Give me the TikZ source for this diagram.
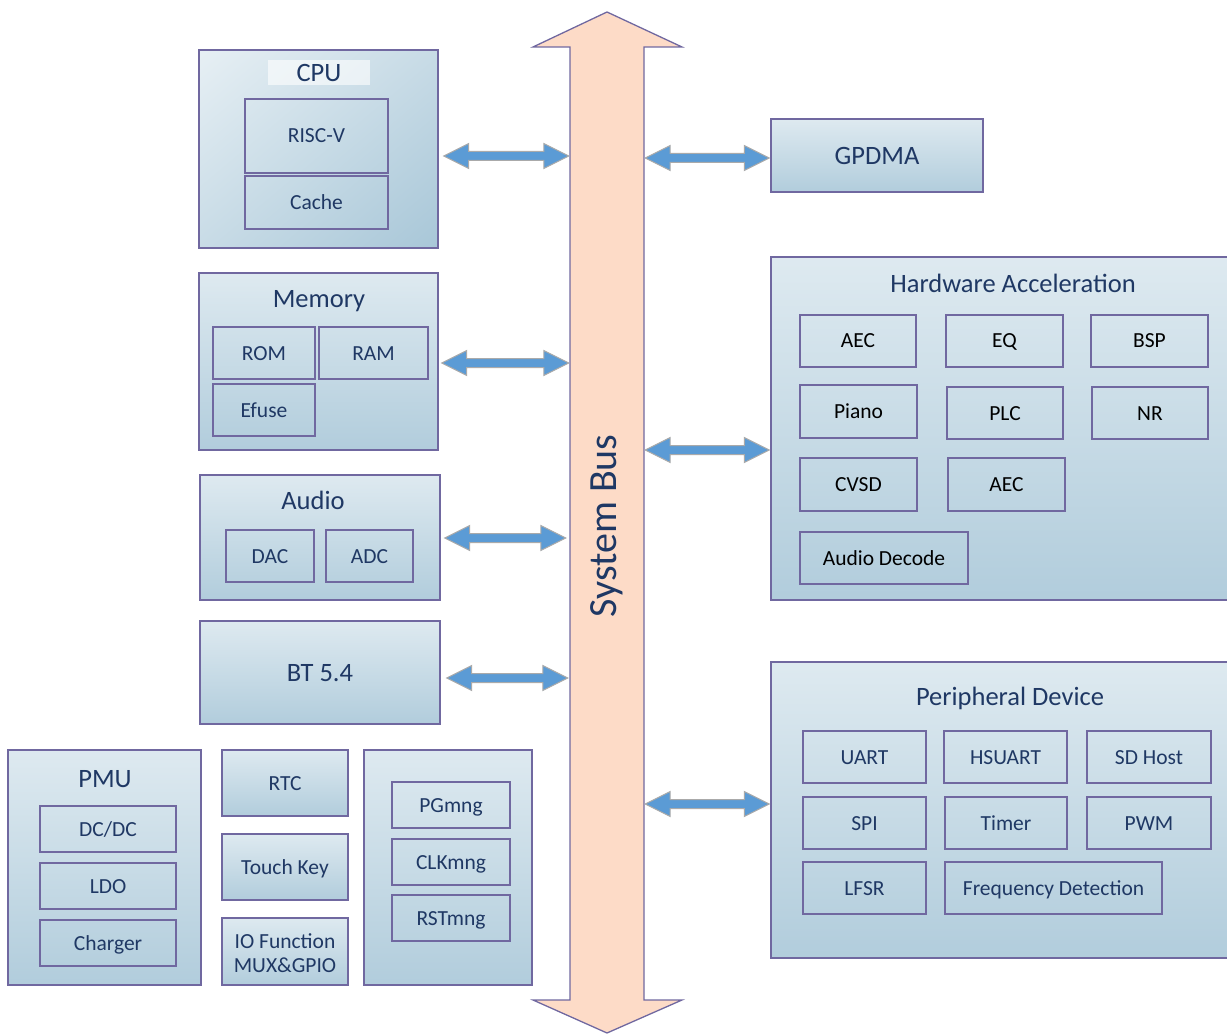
\documentclass[tikz,border=0pt]{standalone}
\usepackage{fontspec}
\setmainfont{Carlito}
\usetikzlibrary{calc,fit}
\definecolor{bord}{RGB}{112,104,160}
\definecolor{navy}{RGB}{31,56,100}
\definecolor{shA}{RGB}{244,248,250}
\definecolor{shB}{RGB}{164,196,214}
\definecolor{shC}{RGB}{192,214,226}
\definecolor{ablue}{RGB}{91,155,213}
\definecolor{agray}{RGB}{170,170,170}
\definecolor{peach}{RGB}{253,219,199}
\pgfdeclareverticalshading{boxsh}{100bp}{color(0bp)=(shC); color(10bp)=(shB); color(100bp)=(shA)}
\tikzset{
  outer/.style={draw=bord, line width=1.3pt, shading=boxsh, inner sep=0pt},
  subbox/.style={draw=bord, line width=1.3pt, inner sep=0pt},
  txtbase/.style={font=\fontsize{21.5}{24}\selectfont, text=navy, align=center, inner sep=0pt},
  subtxt/.style={txtbase, text height=14pt, text depth=0pt},
  hwtxt/.style={subtxt, text=black},
  ttl/.style={font=\fontsize{26.5}{30}\selectfont, text=navy, inner sep=0pt, text height=17pt, text depth=0pt},
  arr/.style={fill=ablue, draw=agray, line width=1pt, line join=miter},
}
% \mybox{style}{name}{x1}{y1}{x2}{y2}{text}
\newcommand\mybox[7]{%
  \node[subbox, fit={(#3,#4) (#5,#6)}] (#2) {};
  \node[#1] (#2-t) at (#2.center) {#7};}
\newcommand\darrow[2]{%
  \draw[arr] let \p1=(#1), \p2=(#2) in
    (\x1,\y1) -- (\x1+25pt,\y1+12.5pt) -- (\x1+25pt,\y1+4.5pt) -- (\x2-25pt,\y1+4.5pt)
    -- (\x2-25pt,\y1+12.5pt) -- (\x2,\y1) -- (\x2-25pt,\y1-12.5pt) -- (\x2-25pt,\y1-4.5pt)
    -- (\x1+25pt,\y1-4.5pt) -- (\x1+25pt,\y1-12.5pt) -- cycle;}
\begin{document}
\begin{tikzpicture}[x=1pt,y=-1pt]
\useasboundingbox (0,0) rectangle (1227,1035);

% System bus
\draw[draw=bord, fill=peach, line width=1.3pt, line join=miter]
  (570,47) -- (533,47) -- (607,12) -- (682,47) -- (644,47) -- (644,1000)
  -- (682,1000) -- (607,1033) -- (533,1000) -- (570,1000) -- cycle;
\node[inner sep=0pt, fit={(570,47) (644,1000)}] (bus) {};
\node[rotate=90, font=\fontsize{40}{42}\selectfont, text=navy, inner sep=0pt] (bustxt) at (607,526) {System Bus};

% CPU
\node[outer, shading angle=40, fit={(199,50) (438,248)}] (cpu) {};
\node[fill=white, fill opacity=0.6, inner sep=0pt, fit={(268,60) (370,85)}] (cpubg) {};
\node[ttl] (cput) at (319,73) {CPU};
\mybox{subtxt}{risc}{245}{99}{388}{173}{RISC-V}
\mybox{subtxt}{cache}{245}{176}{388}{229}{Cache}

% Memory
\node[outer, fit={(199,273) (438,450)}] (mem) {};
\node[ttl] (memt) at (319,299) {Memory};
\mybox{subtxt}{rom}{213}{327}{315}{379}{ROM}
\mybox{subtxt}{ram}{319}{327}{428}{379}{RAM}
\mybox{subtxt}{efuse}{213}{384}{315}{436}{Efuse}

% Audio
\node[outer, fit={(200,475) (440,600)}] (audio) {};
\node[ttl] (audiot) at (313,501) {Audio};
\mybox{subtxt}{dac}{226}{530}{314}{582}{DAC}
\mybox{subtxt}{adc}{326}{530}{413}{582}{ADC}

% BT
\node[outer, fit={(200,621) (440,724)}] (bt) {};
\node[ttl] (btt) at (bt.center) {BT 5.4};

% PMU
\node[outer, fit={(8,750) (201,985)}] (pmu) {};
\node[ttl] (pmut) at (105,779) {PMU};
\mybox{subtxt}{dcdc}{40}{806}{176}{852}{DC/DC}
\mybox{subtxt}{ldo}{40}{863}{176}{909}{LDO}
\mybox{subtxt}{chg}{40}{920}{176}{966}{Charger}

% RTC / Touch / IO
\node[outer, fit={(222,750) (348,816)}] (rtc) {};
\node[subtxt] (rtct) at (rtc.center) {RTC};
\node[outer, fit={(222,834) (348,900)}] (touch) {};
\node[subtxt] (toucht) at (touch.center) {Touch Key};
\node[outer, fit={(222,918) (348,985)}] (io) {};
\node[txtbase] (iot) at ($(io.center)+(0,1.5)$) {IO Function\\MUX\&GPIO};

% mng group
\node[outer, fit={(364,750) (532,985)}] (mng) {};
\mybox{subtxt}{pg}{392}{782}{510}{828}{PGmng}
\mybox{subtxt}{clk}{392}{839}{510}{885}{CLKmng}
\mybox{subtxt}{rst}{392}{895}{510}{941}{RSTmng}

% GPDMA
\node[outer, fit={(771,119) (983,192)}] (gpdma) {};
\node[ttl] (gpdmat) at (877,156) {GPDMA};

% Hardware Acceleration
\node[outer, fit={(771,257) (1232,600)}] (hw) {};
\node[ttl] (hwt) at (1013,284) {Hardware Acceleration};
\mybox{hwtxt}{aec1}{800}{315}{916}{367}{AEC}
\mybox{hwtxt}{eq}{946}{315}{1063}{367}{EQ}
\mybox{hwtxt}{bsp}{1091}{315}{1208}{367}{BSP}
\mybox{hwtxt}{piano}{800}{385}{917}{438}{Piano}
\mybox{hwtxt}{plc}{947}{387}{1063}{439}{PLC}
\mybox{hwtxt}{nr}{1092}{387}{1208}{439}{NR}
\mybox{hwtxt}{cvsd}{800}{458}{917}{511}{CVSD}
\mybox{hwtxt}{aec2}{948}{458}{1065}{511}{AEC}
\mybox{hwtxt}{adec}{800}{532}{968}{584}{Audio Decode}

% Peripheral Device
\node[outer, fit={(771,662) (1232,958)}] (per) {};
\node[ttl] (pert) at (1010,697) {Peripheral Device};
\mybox{subtxt}{uart}{803}{731}{926}{783}{UART}
\mybox{subtxt}{hsuart}{944}{731}{1067}{783}{HSUART}
\mybox{subtxt}{sdh}{1087}{731}{1211}{783}{SD Host}
\mybox{subtxt}{spi}{803}{797}{926}{849}{SPI}
\mybox{subtxt}{timer}{945}{797}{1067}{849}{Timer}
\mybox{subtxt}{pwm}{1087}{797}{1211}{849}{PWM}
\mybox{subtxt}{lfsr}{803}{862}{926}{914}{LFSR}
\mybox{subtxt}{freq}{945}{862}{1162}{914}{Frequency Detection}

% connector end points
\coordinate (a1) at ($(cpu.east)+(5,7)$);
\coordinate (b1) at ($(bus.west |- a1)+(-1,0)$);
\coordinate (a2) at ($(mem.east)+(3,1.5)$);
\coordinate (b2) at ($(bus.west |- a2)+(-1,0)$);
\coordinate (a3) at ($(audio.east)+(4,0.5)$);
\coordinate (b3) at ($(bus.west |- a3)+(-4,0)$);
\coordinate (a4) at ($(bt.east)+(6,5.5)$);
\coordinate (b4) at ($(bus.west |- a4)+(-2,0)$);
\coordinate (a5) at ($(bus.east |- gpdma.west)+(1,2.5)$);
\coordinate (b5) at ($(gpdma.west)+(-1,2.5)$);
\coordinate (a6) at ($(bus.east |- hw.west)+(1,21.5)$);
\coordinate (b6) at ($(hw.west)+(-1,21.5)$);
\coordinate (a7) at ($(bus.east |- per.west)+(1,-6)$);
\coordinate (b7) at ($(per.west)+(-1,-6)$);

\darrow{a1}{b1}
\darrow{a2}{b2}
\darrow{a3}{b3}
\darrow{a4}{b4}
\darrow{a5}{b5}
\darrow{a6}{b6}
\darrow{a7}{b7}
\end{tikzpicture}
\end{document}
